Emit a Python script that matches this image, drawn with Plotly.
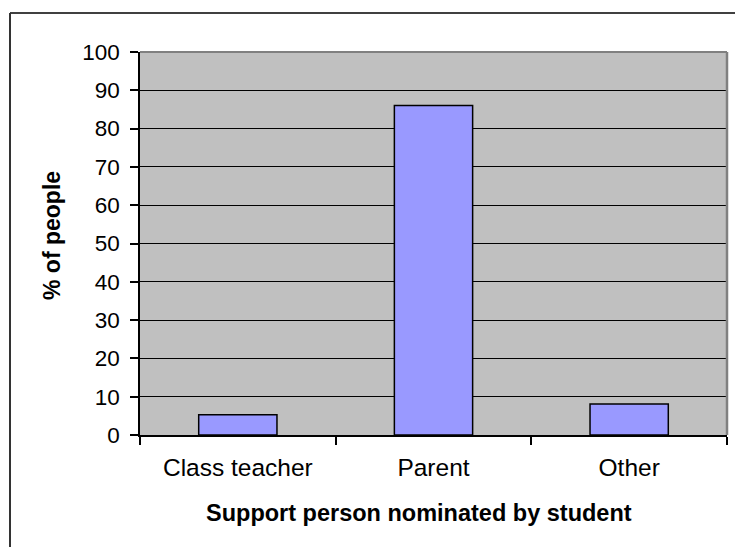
import plotly.graph_objects as go

# Support person nominated by student (% of people)
categories = ["Class teacher", "Parent", "Other"]
percent_people = [5.3, 86, 8.1]
y_ticks = [0, 10, 20, 30, 40, 50, 60, 70, 80, 90, 100]

W, H = 735, 547
L, R, T, B = 140, 8, 52, 112
PW, PH = W - L - R, H - T - B


def px_x(x):
    """Page x pixel -> paper coordinate."""
    return (x - L) / PW


def px_y(y):
    """Page y pixel -> paper coordinate."""
    return (H - B - y) / PH


fig = go.Figure(
    go.Bar(
        x=categories,
        y=percent_people,
        marker=dict(color="#9999FF", line=dict(color="#000000", width=1.5)),
        width=0.4,
    )
)

font_family = "Liberation Sans, Arial, sans-serif"

fig.update_layout(
    width=W,
    height=H,
    margin=dict(l=L, r=R, t=T, b=B),
    paper_bgcolor="#FFFFFF",
    plot_bgcolor="#C0C0C0",
    showlegend=False,
    font=dict(family=font_family, size=22, color="#000000"),
    xaxis=dict(
        showgrid=False,
        showline=True,
        linecolor="#000000",
        linewidth=1.5,
        ticks="outside",
        tickson="boundaries",
        ticklen=8,
        tickwidth=1.5,
        tickcolor="#000000",
        tickfont=dict(size=24.5),
        ticklabelstandoff=10,
    ),
    yaxis=dict(
        range=[0, 100],
        tickvals=y_ticks,
        showgrid=True,
        gridcolor="#000000",
        gridwidth=1,
        zeroline=False,
        showline=True,
        linecolor="#000000",
        linewidth=1.5,
        ticks="outside",
        ticklen=8,
        tickwidth=1.5,
        tickcolor="#000000",
        tickfont=dict(size=22.5),
        ticklabelstandoff=6,
    ),
    annotations=[
        dict(text="<b>Support person nominated by student</b>",
             xref="paper", yref="paper", x=px_x(419), y=px_y(513),
             xanchor="center", yanchor="middle", showarrow=False,
             font=dict(size=23.5)),
        dict(text="<b>% of people</b>", textangle=-90,
             xref="paper", yref="paper", x=px_x(52), y=px_y(236),
             xanchor="center", yanchor="middle", showarrow=False,
             font=dict(size=23)),
    ],
    shapes=[
        # plot-area border (top and right edges)
        dict(type="line", xref="paper", yref="paper", x0=0, x1=1, y0=1, y1=1,
             line=dict(color="#808080", width=2)),
        dict(type="line", xref="paper", yref="paper", x0=1, x1=1, y0=0, y1=1,
             line=dict(color="#808080", width=2.5)),
        # chart frame
        dict(type="line", xref="paper", yref="paper",
             x0=px_x(10), x1=px_x(W), y0=px_y(13), y1=px_y(13),
             line=dict(color="#000000", width=1.5)),
        dict(type="line", xref="paper", yref="paper",
             x0=px_x(10), x1=px_x(10), y0=px_y(13), y1=px_y(H),
             line=dict(color="#333333", width=2)),
    ],
)

fig.write_html("out.html")
